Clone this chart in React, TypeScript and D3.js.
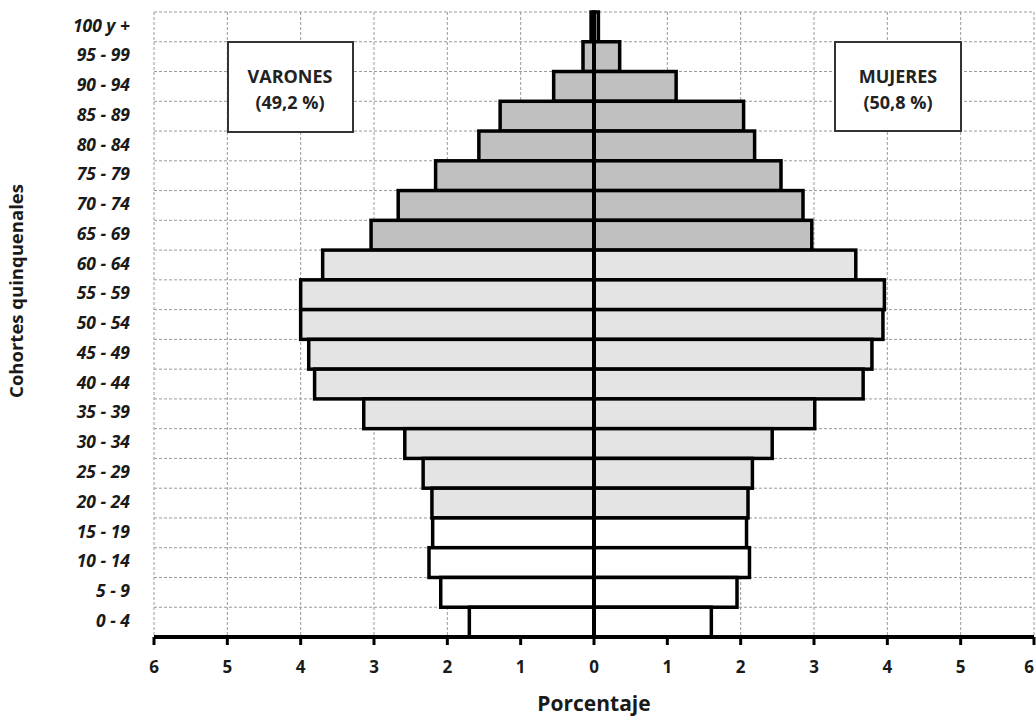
import React from "react";
import * as d3 from "d3";

const categories = [
  "100 y +", "95 - 99", "90 - 94", "85 - 89", "80 - 84", "75 - 79", "70 - 74",
  "65 - 69", "60 - 64", "55 - 59", "50 - 54", "45 - 49", "40 - 44", "35 - 39",
  "30 - 34", "25 - 29", "20 - 24", "15 - 19", "10 - 14", "5 - 9", "0 - 4",
];
const varones = [
  0.04, 0.15, 0.55, 1.28, 1.57, 2.16, 2.67, 3.04, 3.70, 4.0, 4.0, 3.89, 3.81,
  3.14, 2.58, 2.33, 2.21, 2.2, 2.25, 2.09, 1.7,
];
const mujeres = [
  0.06, 0.35, 1.12, 2.04, 2.19, 2.55, 2.85, 2.97, 3.57, 3.96, 3.94, 3.79, 3.67,
  3.01, 2.43, 2.16, 2.1, 2.08, 2.12, 1.95, 1.6,
];
// group: 0 = 65+, 1 = 20-64, 2 = 0-19
const grupo = [0, 0, 0, 0, 0, 0, 0, 0, 1, 1, 1, 1, 1, 1, 1, 1, 1, 2, 2, 2, 2];
const xTicks = [-6, -5, -4, -3, -2, -1, 0, 1, 2, 3, 4, 5, 6];

const FILLS = ["#c0c0c0", "#e4e4e4", "#ffffff"];
const FONT = "'Open Sans', sans-serif";

export default function App() {
  const W = 1036;
  const H = 716;
  const x = d3.scaleLinear().domain([-6, 6]).range([154, 1034]);
  const y = d3.scaleBand().domain(categories).range([12, 637]).padding(0);
  const bw = y.bandwidth();
  const boundaries = d3.range(categories.length).map((i) => 12 + i * bw);

  return (
    <svg
      width={W}
      height={H}
      style={{ position: "absolute", left: 0, top: 0, background: "#fff" }}
      fontFamily={FONT}
    >
      <rect x={0} y={0} width={W} height={H} fill="#fff" />
      {/* grid */}
      <g stroke="#9a9a9a" strokeWidth={1} strokeDasharray="3,2">
        {xTicks.filter((t) => t !== 0).map((t) => (
          <line key={"v" + t} x1={x(t)} x2={x(t)} y1={12} y2={637} />
        ))}
        {boundaries.map((b, i) => (
          <line key={"h" + i} x1={x(-6)} x2={x(6)} y1={b} y2={b} />
        ))}
      </g>
      {/* bars */}
      <g stroke="#000" strokeWidth={3.5}>
        {categories.map((c, i) => (
          <g key={c}>
            <rect
              x={x(-varones[i])}
              y={y(c)}
              width={x(0) - x(-varones[i])}
              height={bw}
              fill={FILLS[grupo[i]]}
            />
            <rect
              x={x(0)}
              y={y(c)}
              width={x(mujeres[i]) - x(0)}
              height={bw}
              fill={FILLS[grupo[i]]}
            />
          </g>
        ))}
      </g>
      {/* zero line */}
      <line x1={x(0)} x2={x(0)} y1={11} y2={637} stroke="#000" strokeWidth={4} />
      {/* x axis */}
      <line x1={x(-6)} x2={x(6)} y1={637} y2={637} stroke="#000" strokeWidth={4} />
      {xTicks.map((t) => (
        <g key={"t" + t}>
          <line x1={x(t)} x2={x(t)} y1={637} y2={645} stroke="#000" strokeWidth={3} />
          <text
            x={Math.min(x(t), 1029)}
            y={668}
            textAnchor="middle"
            dominantBaseline="middle"
            fontSize={17}
            fontWeight="bold"
            fill="#1a1a1a"
          >
            {Math.abs(t)}
          </text>
        </g>
      ))}
      {/* y labels */}
      {categories.map((c) => (
        <text
          key={"l" + c}
          x={130}
          y={(y(c) as number) + bw / 2}
          textAnchor="end"
          dominantBaseline="middle"
          fontSize={17.5}
          fontWeight="bold"
          fontStyle="italic"
          fill="#1a1a1a"
        >
          {c}
        </text>
      ))}
      {/* axis titles */}
      <text
        x={x(0)}
        y={705}
        textAnchor="middle"
        dominantBaseline="middle"
        fontSize={21}
        fontWeight="bold"
        fill="#1a1a1a"
      >
        Porcentaje
      </text>
      <text
        transform="translate(18,291) rotate(-90)"
        textAnchor="middle"
        dominantBaseline="middle"
        fontSize={18.5}
        fontWeight="bold"
        fill="#1a1a1a"
      >
        Cohortes quinquenales
      </text>
      {/* legend boxes */}
      <g>
        <rect x={228} y={42} width={125} height={90} fill="#fff" stroke="#333" strokeWidth={2} />
        <text x={290} y={78} textAnchor="middle" dominantBaseline="middle" fontSize={18} fontWeight="bold" fill="#222">
          VARONES
        </text>
        <text x={290} y={104} textAnchor="middle" dominantBaseline="middle" fontSize={18} fontWeight="bold" fill="#222">
          (49,2 %)
        </text>
        <rect x={835} y={42} width={126} height={89} fill="#fff" stroke="#333" strokeWidth={2} />
        <text x={898} y={78} textAnchor="middle" dominantBaseline="middle" fontSize={18} fontWeight="bold" fill="#222">
          MUJERES
        </text>
        <text x={898} y={104} textAnchor="middle" dominantBaseline="middle" fontSize={18} fontWeight="bold" fill="#222">
          (50,8 %)
        </text>
      </g>
    </svg>
  );
}
